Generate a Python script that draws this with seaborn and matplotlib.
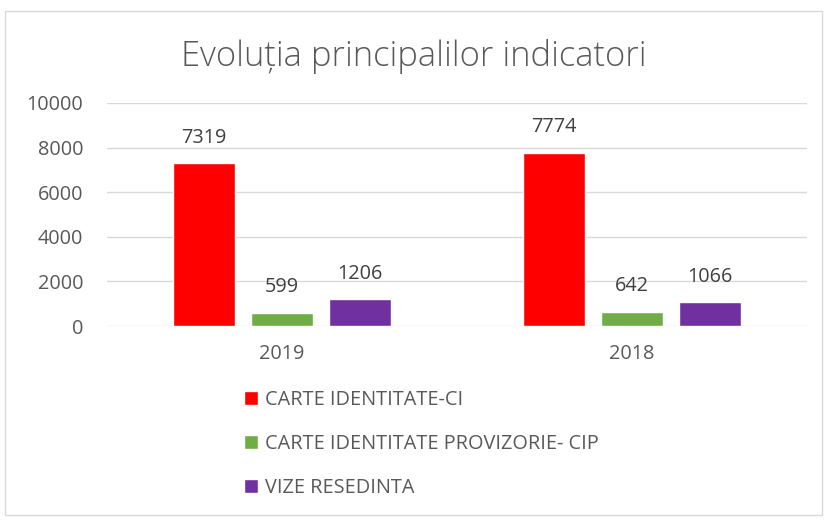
import pandas as pd
import seaborn as sns
import matplotlib.pyplot as plt
from matplotlib.patches import Rectangle

years = ['2019', '2018']
series = ['CARTE IDENTITATE-CI', 'CARTE IDENTITATE PROVIZORIE- CIP', 'VIZE RESEDINTA']
ci = [7319, 7774]
cip = [599, 642]
vize = [1206, 1066]
colors = ['#ff0000', '#70ad47', '#7030a0']

rows = []
for name, vals in zip(series, [ci, cip, vize]):
    for y, v in zip(years, vals):
        rows.append({'an': y, 'serie': name, 'val': v})
df = pd.DataFrame(rows)

sns.set_style('white')
plt.rcParams['font.family'] = ['Open Sans', 'DejaVu Sans']
txt = '#595959'

fig = plt.figure(figsize=(8.27, 5.20), dpi=100)
ax = fig.add_axes([107/827, 1-326/520, 700/827, 223/520])

sns.barplot(data=df, x='an', y='val', hue='serie', palette=colors, saturation=1,
            width=0.67, gap=0.2, ax=ax, legend=True)

ax.set_ylim(0, 10000)
ax.set_xlim(-0.5, 1.5)
ax.set_yticks(range(0, 10001, 2000))
ax.grid(axis='y', color='#d9d9d9', linewidth=1)
ax.set_axisbelow(True)
for s in ax.spines.values():
    s.set_visible(False)
ax.tick_params(axis='y', length=0, pad=17, labelsize=14.3, labelcolor=txt)
ax.tick_params(axis='x', length=0, pad=13, labelsize=14.3, labelcolor=txt)
ax.set_xlabel('')
ax.set_ylabel('')

for c in ax.containers:
    ax.bar_label(c, padding=11, fontsize=14.3, color='#404040')

ax.legend(loc='upper left', bbox_to_anchor=(226/827, 1-372/520), bbox_transform=fig.transFigure,
          frameon=False, fontsize=14.3, labelcolor=txt, handlelength=0.7, handleheight=0.7,
          handletextpad=0.35, labelspacing=1.2)

fig.text(0.5, 1-57/520, 'Evoluția principalilor indicatori', ha='center', va='center',
         fontsize=24.8, color=txt, fontweight='light')

fig.patches.append(Rectangle((5/827, 5/520), 817/827, 504/520, transform=fig.transFigure,
                             fill=False, edgecolor='#d9d9d9', linewidth=1))

fig.savefig('out.png', dpi=100)
